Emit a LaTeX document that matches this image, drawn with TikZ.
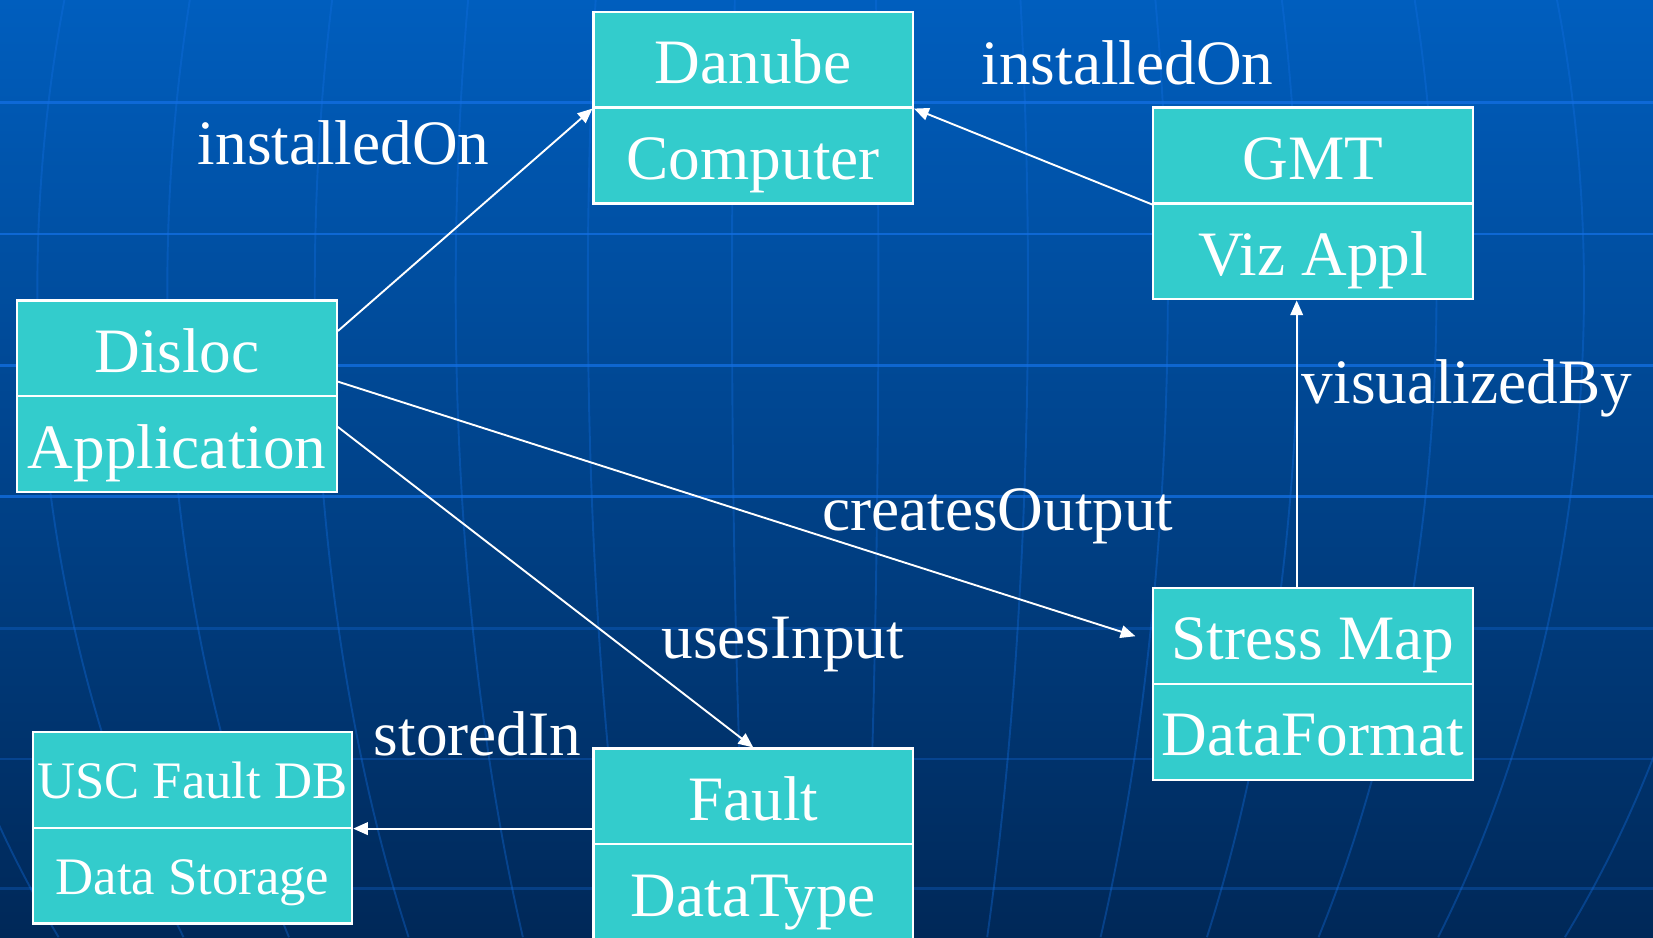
\documentclass[tikz,border=0pt]{standalone}
\usepackage{fontspec}
\setmainfont{Liberation Serif}
\usetikzlibrary{arrows.meta,calc}
\definecolor{bgtop}{RGB}{0,94,190}
\definecolor{bgbot}{RGB}{0,40,88}
\definecolor{boxfill}{RGB}{51,204,204}
\definecolor{gridc}{RGB}{20,112,228}
\begin{document}
\begin{tikzpicture}[x=0.5pt,y=-0.5pt,
  cls/.style={draw=white, line width=1pt, fill=boxfill, minimum width=151.5pt,
    minimum height=45.5pt, inner sep=0pt, text=white,
    font=\fontsize{30}{36}\selectfont, text height=30.5pt, text depth=8pt},
  smallcls/.style={cls, font=\fontsize{25}{30}\selectfont, text height=26pt},
  lbl/.style={text=white, font=\fontsize{30}{36}\selectfont, anchor=base, inner sep=0pt},
  rel/.style={draw=white, line width=0.9pt, -{Triangle[length=7pt,width=6pt]}},
  hgrid/.style={draw=gridc, line width=1.3pt},
  vgrid/.style={draw=gridc, line width=0.9pt, opacity=0.35},
]
\useasboundingbox (0,0) rectangle (1568,889);
\clip (0,0) rectangle (1568,889);
% background
\shade[top color=bgtop, bottom color=bgbot] (0,0) rectangle (1568,889);
\foreach \d in {-850,-709,-590,-455,-326,-205,-73,61,198,326,446,572,707,850}
  \draw[vgrid] plot[domain=0:889, samples=40, smooth, variable=\t]
    ({770+(\d)*sqrt(1-((\t-275)/1050)^2)/0.9651}, \t);
\foreach \yy in {97,222,347,471}
  \draw[hgrid, opacity=0.75] (0,\yy) -- (1568,\yy);
\foreach \yy in {596,720,843}
  \draw[hgrid, opacity=0.3] (0,\yy) -- (1568,\yy);

% classes
\node[cls] (danT) at (714.5,56.5) {Danube};
\node[cls] (danB) at (714.5,147.5) {Computer};
\node[cls] (gmtT) at (1245.5,147.5) {GMT};
\node[cls] (gmtB) at (1245.5,238.5) {Viz Appl};
\node[cls] (disT) at (168,330.5) {Disloc};
\node[cls] (disB) at (168,421.5) {Application};
\node[cls] (smT) at (1245.5,603.5) {Stress Map};
\node[cls] (smB) at (1245.5,694.5) {DataFormat};
\node[smallcls] (uscT) at (182.5,739.5) {USC Fault DB};
\node[smallcls] (uscB) at (182.5,830.5) {Data Storage};
\node[cls] (fltT) at (714.5,755.5) {Fault};
\node[cls] (fltB) at (714.5,846.5) {DataType};

% relations
\draw[rel] ($(disT.east)+(0,-16.5)$) -- (danT.south west);
\draw[rel] (gmtT.south west) -- (danT.south east);
\draw[rel] ($(smT.north)+(-15.5,0)$) -- ($(gmtB.south)+(-15.5,0)$);
\draw[rel] ($(disT.south east)+(0,-15)$) -- ($(smT.west)+(-16,0)$);
\draw[rel] ($(disB.north east)+(0,30)$) -- (fltT.north);
\draw[rel] (fltT.west |- uscT.south east) -- (uscT.south east);

% labels
\node[lbl] (l1) at (326,156) {installedOn};
\node[lbl] (l2) at (1069.5,80) {installedOn};
\node[lbl] (l3) at (1391.5,383) {visualizedBy};
\node[lbl] (l4) at (946.5,503) {createsOutput};
\node[lbl] (l5) at (742.5,625) {usesInput};
\node[lbl] (l6) at (453,717) {storedIn};
\end{tikzpicture}
\end{document}
